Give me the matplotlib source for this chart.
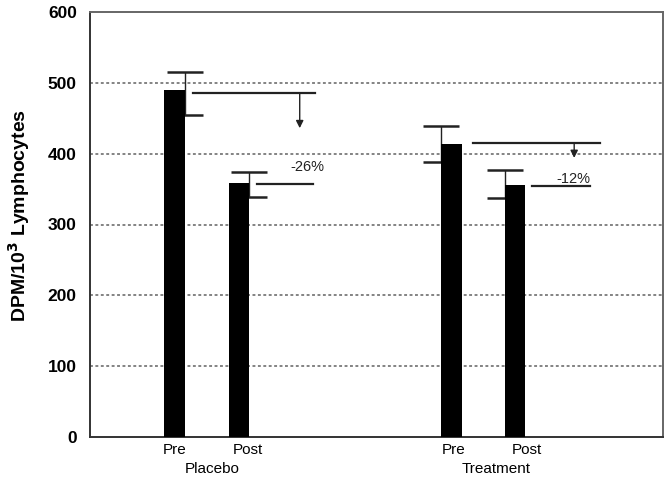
import matplotlib
matplotlib.use("Agg")
import matplotlib.pyplot as plt

plt.rcParams['font.family'] = ['Liberation Sans', 'DejaVu Sans']

# Bar data (DPM per 10^3 lymphocytes)
bar_labels = ["Pre", "Post", "Pre", "Post"]
groups = ["Placebo", "Treatment"]
means = [490, 359, 414, 356]
err_upper = [515, 374, 439, 377]
err_lower = [455, 339, 388, 337]

# Change annotations: level of pre line, level of post line, arrow tip, text
change_pre_level = [486, 415]
change_post_level = [357, 354]
arrow_tip = [436, 394]
change_text = ["-26%", "-12%"]

yticks = [0, 100, 200, 300, 400, 500, 600]

# layout in data units
bar_x = [1.475, 2.60, 6.31, 7.42]
bar_w = 0.36
err_side = [1, 1, -1, -1]        # error bar drawn at right / left edge of bar
label_x = [1.48, 2.76, 6.35, 7.63]
group_x = [2.13, 7.09]
pre_line_x = [(1.80, 3.93), (6.68, 8.90)]
post_line_x = [(2.91, 3.89), (7.71, 8.73)]
arrow_x = [3.66, 8.45]
text_pos = [(3.80, 381), (8.43, 364)]

fig = plt.figure(figsize=(6.7, 4.84), dpi=100)
ax = fig.add_axes([90 / 670, (484 - 437) / 484, (663 - 90) / 670, (437 - 12) / 484])
ax.set_xlim(0, 10)
ax.set_ylim(0, 600)

for y in yticks[1:-1]:
    ax.axhline(y, color="#7a7a7a", linestyle=(0, (1.6, 1.4)), linewidth=1.3, zorder=1)

ax.bar(bar_x, means, width=bar_w, color="black", zorder=3)

for x, side, m, hi, lo in zip(bar_x, err_side, means, err_upper, err_lower):
    ex = x + side * bar_w / 2
    ax.errorbar([ex], [m], yerr=[[m - lo], [hi - m]], fmt="none", ecolor="#222222",
                elinewidth=1.0, capsize=13.3, capthick=1.8, zorder=2)

for i in range(2):
    x0, x1 = pre_line_x[i]
    ax.plot([x0, x1], [change_pre_level[i]] * 2, color="#222222", lw=1.6, zorder=4)
    x0, x1 = post_line_x[i]
    ax.plot([x0, x1], [change_post_level[i]] * 2, color="#222222", lw=1.6, zorder=4)
    ax.annotate("", xy=(arrow_x[i], arrow_tip[i]), xytext=(arrow_x[i], change_pre_level[i]),
                arrowprops=dict(arrowstyle="-|>", color="#222222", lw=1.0,
                                mutation_scale=11, shrinkA=0, shrinkB=0), zorder=4)
    ax.text(text_pos[i][0], text_pos[i][1], change_text[i], ha="center", va="center",
            fontsize=10.5, color="#222222")

ax.set_yticks(yticks)
ax.set_yticklabels([str(v) for v in yticks], fontsize=12.5, fontweight="bold")
ax.tick_params(axis="y", length=0, pad=9.5)
ax.set_xticks([])

for x, lab in zip(label_x, bar_labels):
    ax.annotate(lab, xy=(x, 0), xycoords=("data", "axes fraction"), xytext=(0, -9.6),
                textcoords="offset points", ha="center", va="center", fontsize=11)
for x, lab in zip(group_x, groups):
    ax.annotate(lab, xy=(x, 0), xycoords=("data", "axes fraction"), xytext=(0, -23.3),
                textcoords="offset points", ha="center", va="center", fontsize=11)

ax.set_ylabel("DPM/10$^{\\mathbf{3}}$ Lymphocytes", fontsize=14, fontweight="bold")
ax.yaxis.set_label_coords(-58 / 573, 0.522)

for name, sp in ax.spines.items():
    sp.set_color("#333333" if name in ("left", "bottom") else "#666666")
    sp.set_linewidth(1.4)

fig.savefig("out.png", dpi=100)
